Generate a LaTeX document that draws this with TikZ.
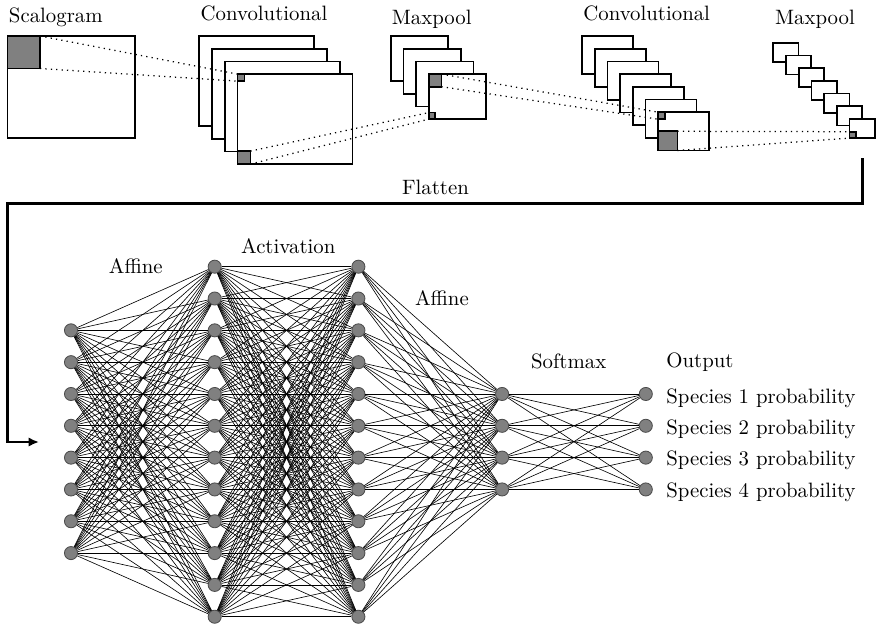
\documentclass[tikz,border=0pt]{standalone}
\usepackage{tikz}
\usetikzlibrary{arrows.meta,calc}

\newcommand{\pxu}{0.4808pt}

\begin{document}
\begin{tikzpicture}[x=0.4808pt, y=-0.4808pt,
    fmap/.style={draw, fill=white, line width=0.8pt},
    patch/.style={draw, fill=gray, line width=0.8pt, inner sep=0pt, outer sep=0pt, anchor=north west},
    link/.style={dotted, line width=0.6pt},
    neuron/.style={circle, fill=gray, draw=black!70, line width=0.4pt, inner sep=0pt, minimum size=6.3pt},
    edge/.style={line width=0.3pt},
    lbl/.style={inner sep=0pt, anchor=base},
    flow/.style={line width=1.2pt, -{Latex[length=5pt,width=4.5pt]}}]
    \useasboundingbox (0,0) rectangle (877,625);

    % Scalogram
    \draw[fmap] (7.5,36) rectangle +(127.8,101.7);
    \node[patch, minimum size=32.5*\pxu] (p0) at (7.5,36) {};
    \node[lbl] (tscal) at (55.8,22.5) {Scalogram};

    % Convolutional
    \foreach \i in {0,...,3}
        \draw[fmap] ({199.3+12.7*\i},{36+12.7*\i}) rectangle +(115,90);
    \node[patch, minimum size=7*\pxu] (p1) at (237.4,74.1) {};
    \node[patch, minimum size=13*\pxu, anchor=south west] (p2) at (237.4,164.1) {};
    \node[lbl] (tconv1) at (264,20.7) {Convolutional};

    % Maxpool
    \foreach \i in {0,...,3}
        \draw[fmap] ({390.7+12.7*\i},{36+12.7*\i}) rectangle +(57.3,45);
    \node[patch, minimum size=12.6*\pxu] (p3) at (428.8,74.1) {};
    \node[patch, minimum size=6.5*\pxu, anchor=south west] (p4) at (428.8,119.1) {};
    \node[lbl] (tpool1) at (431.7,24.5) {Maxpool};

    % Convolutional
    \foreach \i in {0,...,6}
        \draw[fmap] ({582+12.7*\i},{36+12.7*\i}) rectangle +(51,38.3);
    \node[patch, minimum size=7*\pxu] (p5) at (658.2,112.2) {};
    \node[patch, minimum size=19.2*\pxu, anchor=south west] (p6) at (658.2,150.5) {};
    \node[lbl] (tconv2) at (646.7,20.7) {Convolutional};

    % Maxpool
    \foreach \i in {0,...,6}
        \draw[fmap] ({773.3+12.7*\i},{42.7+12.7*\i}) rectangle +(25.3,19.2);
    \node[patch, minimum size=6.4*\pxu, anchor=south west] (p7) at (849.5,138.1) {};
    \node[lbl] (tpool2) at (815,24.5) {Maxpool};

    % Receptive fields
    \draw[link] (p0.north east) -- (p1.north west);
    \draw[link] (p0.south east) -- (p1.south west);
    \draw[link] (p2.north east) -- (p4.north west);
    \draw[link] (p2.south east) -- (p4.south west);
    \draw[link] (p3.north east) -- (p5.north west);
    \draw[link] (p3.south east) -- (p5.south west);
    \draw[link] (p6.north east) -- (p7.north west);
    \draw[link] (p6.south east) -- (p7.south west);

    % Flatten
    \coordinate (fl-top) at (862.7,158);
    \coordinate (fl-in) at (39,442);
    \draw[flow] (fl-top) |- (7.3,203.3) |- (fl-in);
    \node[lbl] (tflat) at (435.5,194) {Flatten};

    % Neurons
    \foreach \i in {1,...,8}
        \node[neuron] (a\i) at (71,{266.7+31.82*(\i+1)}) {};
    \foreach \i in {1,...,12} {
        \node[neuron] (b\i) at (214.7,{266.7+31.82*(\i-1)}) {};
        \node[neuron] (c\i) at (358.4,{266.7+31.82*(\i-1)}) {};
    }
    \foreach \i in {1,...,4} {
        \node[neuron] (d\i) at (502.1,{266.7+31.82*(\i+3)}) {};
        \node[neuron] (e\i) at (645.8,{266.7+31.82*(\i+3)}) {};
    }

    % Weights
    \foreach \i in {1,...,8}
        \foreach \j in {1,...,12}
            \draw[edge] (a\i) -- (b\j);
    \foreach \i in {1,...,12}
        \foreach \j in {1,...,12}
            \draw[edge] (b\i) -- (c\j);
    \foreach \i in {1,...,12}
        \foreach \j in {1,...,4}
            \draw[edge] (c\i) -- (d\j);
    \foreach \i in {1,...,4}
        \foreach \j in {1,...,4}
            \draw[edge] (d\i) -- (e\j);

    % Layer labels
    \node[lbl] (taff1) at (135.8,273.3) {Affine};
    \node[lbl] (tact) at (288.3,253.3) {Activation};
    \node[lbl] (taff2) at (441.9,305) {Affine};
    \node[lbl] (tsoft) at (568.7,368.3) {Softmax};
    \node[lbl, anchor=base west] (tout) at (666,367) {Output};
    \foreach \i/\y in {1/403.3, 2/434.6, 3/465.9, 4/497.2}
        \node[lbl, anchor=base west] (s\i) at (666,\y) {Species \i\ probability};
\end{tikzpicture}
\end{document}
